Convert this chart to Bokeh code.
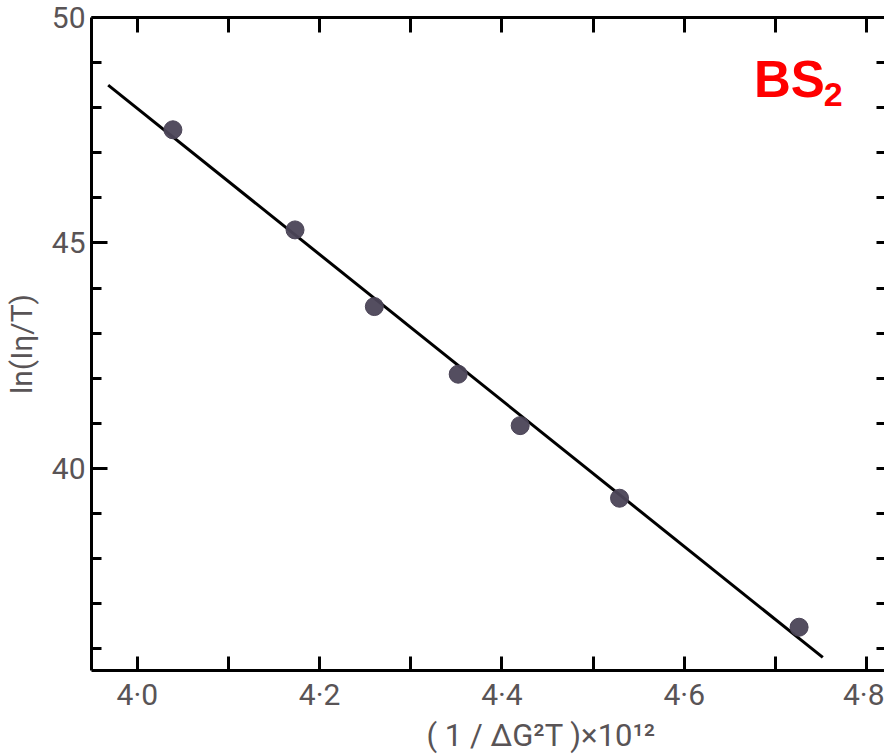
from bokeh.plotting import figure
from bokeh.models import (LinearAxis, FixedTicker, CustomJSTickFormatter, Label,
                          Range1d, ColumnDataSource, Title)
from bokeh.embed import file_html
from bokeh.resources import INLINE

# ---- data ----
x_pts = [4.039, 4.173, 4.260, 4.352, 4.420, 4.529, 4.726]
y_pts = [47.51, 45.29, 43.59, 42.09, 40.95, 39.34, 36.48]

fit_x = [3.968, 4.752]
fit_y = [48.50, 35.81]

x_major = [4.0, 4.2, 4.4, 4.6, 4.8]
x_minor = [4.1, 4.3, 4.5, 4.7]
y_major = [40, 45, 50]
y_minor = [36, 37, 38, 39, 41, 42, 43, 44, 46, 47, 48, 49]

x_label = "( 1 / ΔG²T )×10¹²"
y_label = "ln(Iη/T)"
tag_main = "BS"
tag_sub = "2"

FONT = "Roboto"
GREY = "#595456"

p = figure(width=884, height=755, output_backend="svg", toolbar_location=None,
           x_range=Range1d(3.9497, 4.8197), y_range=Range1d(35.52, 50.0),
           x_axis_type=None, y_axis_type=None,
           min_border_left=88, min_border_top=17, min_border_right=0,
           min_border_bottom=85)
p.outline_line_color = None
p.background_fill_color = "white"
p.border_fill_color = "white"

xt = FixedTicker(ticks=x_major, minor_ticks=x_minor)
yt = FixedTicker(ticks=y_major, minor_ticks=y_minor)
xfmt = CustomJSTickFormatter(code="return tick.toFixed(1).replace('.', '\u00b7');")
blank = CustomJSTickFormatter(code="return '';")


def style(ax, tin, tmin, line=True, labels=True):
    ax.axis_line_color = "black" if line else None
    ax.axis_line_width = 3
    ax.major_tick_line_color = "black"
    ax.minor_tick_line_color = "black"
    ax.major_tick_line_width = 3
    ax.minor_tick_line_width = 3
    ax.major_tick_in = tin
    ax.major_tick_out = 0
    ax.minor_tick_in = tmin
    ax.minor_tick_out = 0
    ax.major_label_text_color = GREY
    ax.major_label_text_font = FONT
    ax.major_label_text_font_size = "30px" if labels else "0px"
    ax.major_label_standoff = 8 if labels else 0


bottom = LinearAxis(ticker=xt, formatter=xfmt)
style(bottom, 14, 14)
bottom.major_label_standoff = 6
p.add_layout(bottom, "below")

top = LinearAxis(ticker=xt, formatter=blank)
style(top, 15, 15, labels=False)
p.add_layout(top, "above")

left = LinearAxis(ticker=yt, axis_label=y_label)
style(left, 16, 10)
left.major_label_standoff = 6
left.axis_label_text_font = FONT
left.axis_label_text_font_size = "30px"
left.axis_label_text_font_style = "normal"
left.axis_label_text_color = GREY
left.axis_label_standoff = 10
p.add_layout(left, "left")

right = LinearAxis(ticker=yt, formatter=blank)
style(right, 8, 8, line=False, labels=False)
p.add_layout(right, "right")

# x-axis title placed below the axis, offset to the right as in the reference
xt_title = Title(text=x_label, align="left", offset=335, text_font=FONT,
                 text_font_size="31px", text_font_style="normal",
                 text_color=GREY, standoff=0)
p.add_layout(xt_title, "below")

# fit line and points
p.line(fit_x, fit_y, line_color="black", line_width=3)
src = ColumnDataSource(dict(x=x_pts, y=y_pts))
p.scatter("x", "y", source=src, size=18, fill_color="#4b4457",
          line_color="#4b4457", fill_alpha=0.95)

# BS2 tag
p.add_layout(Label(x=4.6765, y=48.62, text=tag_main, text_align="left",
                   text_baseline="alphabetic", text_font="Liberation Sans",
                   text_font_style="bold", text_font_size="51px",
                   text_color="#ff0000"))
p.add_layout(Label(x=4.7530, y=48.30, text=tag_sub, text_align="left",
                   text_baseline="alphabetic", text_font="Liberation Sans",
                   text_font_style="bold", text_font_size="34px",
                   text_color="#ff0000"))

open("out.html", "w").write(file_html(p, INLINE))
